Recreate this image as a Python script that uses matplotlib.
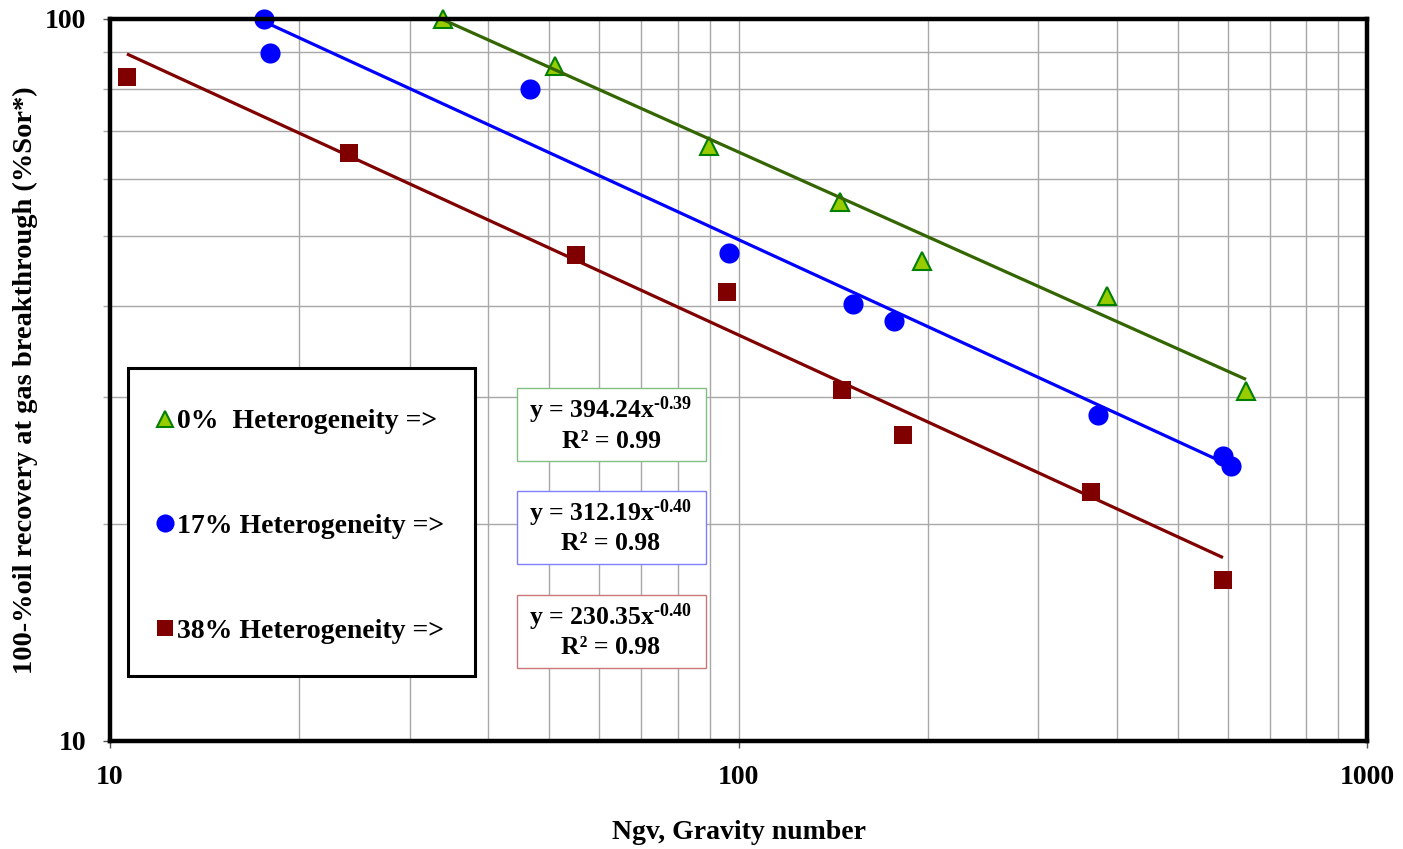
import numpy as np
import matplotlib
matplotlib.use("Agg")
import matplotlib.pyplot as plt
from matplotlib.patches import Rectangle
from matplotlib.lines import Line2D

# ---------------- data ----------------
x_het0 = [33.9, 51.1, 89.8, 145, 196, 386, 642]
y_het0 = [100.0, 86.1, 66.7, 55.8, 46.2, 41.3, 30.5]

x_het17 = [17.6, 18.0, 46.6, 96.6, 152, 177, 373, 590, 608]
y_het17 = [100.0, 89.7, 80.0, 47.4, 40.3, 38.2, 28.3, 24.8, 24.0]

x_het38 = [10.64, 24.0, 55.1, 95.9, 146, 183, 364, 590]
y_het38 = [83.1, 65.2, 47.1, 41.9, 30.6, 26.5, 22.1, 16.7]

fit_coef = [394.24, 312.19, 230.35]
fit_exp = [-0.39, -0.40, -0.40]
fit_r2 = [0.99, 0.98, 0.98]

legend_labels = ["0%  Heterogeneity =>", "17% Heterogeneity =>", "38% Heterogeneity =>"]
x_ticks = [10, 100, 1000]
y_ticks = [10, 100]

# ---------------- style ----------------
plt.rcParams['font.family'] = ['Liberation Serif', 'DejaVu Serif']
plt.rcParams['font.weight'] = 'bold'
plt.rcParams['axes.labelweight'] = 'bold'
plt.rcParams['mathtext.fontset'] = 'custom'
plt.rcParams['mathtext.rm'] = 'Liberation Serif:bold'
plt.rcParams['mathtext.it'] = 'Liberation Serif:bold:italic'
plt.rcParams['mathtext.bf'] = 'Liberation Serif:bold'

W, H = 1403, 849
fig = plt.figure(figsize=(W / 100, H / 100), dpi=100)
L, R, T, B = 110, 1367, 19, 741
ax = fig.add_axes([L / W, 1 - B / H, (R - L) / W, (B - T) / H])


def ax_frac(px, py):
    return (px - L) / (R - L), (B - py) / (B - T)


ax.set_xscale('log')
ax.set_yscale('log')
ax.set_xlim(10, 1000)
ax.set_ylim(10, 100)

grid_c = '#a8a8a8'
ax.grid(True, which='both', color=grid_c, lw=1.0, zorder=0)
ax.set_axisbelow(True)

for s in ax.spines.values():
    s.set_linewidth(3.2)
    s.set_color('black')
    s.set_zorder(10)

ax.set_xticks(x_ticks)
ax.set_xticklabels([str(v) for v in x_ticks])
ax.set_yticks(y_ticks)
ax.set_yticklabels([str(v) for v in y_ticks])
ax.tick_params(axis='both', which='major', direction='out', length=5, width=1,
               color='#555555', labelsize=20, pad=12)
ax.tick_params(axis='x', which='major', pad=12)
ax.tick_params(axis='y', which='minor', direction='out', length=5, width=1, color=grid_c)
ax.tick_params(axis='x', which='minor', length=0)
ax.yaxis.set_minor_formatter(matplotlib.ticker.NullFormatter())
ax.xaxis.set_minor_formatter(matplotlib.ticker.NullFormatter())

series = [
    (x_het0, y_het0, dict(marker='^', ms=13.5, mfc='#99CC00', mec='#008000', mew=1.5), '#336600'),
    (x_het17, y_het17, dict(marker='o', ms=14.5, mfc='#0000FF', mec='#0000FF', mew=0), '#0000FF'),
    (x_het38, y_het38, dict(marker='s', ms=12.5, mfc='#800000', mec='#800000', mew=0), '#800000'),
]

handles = []
for i, (xs, ys, mk, lc) in enumerate(series):
    ax.plot(xs, ys, ls='none', zorder=4, clip_on=False, **mk)
    handles.append(Line2D([], [], ls='none', **dict(mk, ms=mk['ms'] * 0.9)))
    xf = np.geomspace(min(xs), max(xs), 100)
    ax.plot(xf, fit_coef[i] * xf ** fit_exp[i], color=lc, lw=2.3, zorder=5,
            solid_capstyle='butt')

ax.set_xlabel('Ngv, Gravity number', fontsize=20, labelpad=22)
ax.set_ylabel('100-%oil recovery at gas breakthrough (%Sor*)', fontsize=20.5, labelpad=5)

# legend box
x0, y0 = ax_frac(128, 676)
x1, y1 = ax_frac(475, 368)
ax.add_patch(Rectangle((x0, y0), x1 - x0, y1 - y0, transform=ax.transAxes,
                       fill=True, facecolor='white', edgecolor='black', lw=2.2, zorder=8))
lx, ly = ax_frac(156, 409)
leg = ax.legend(handles, legend_labels, loc='upper left', bbox_to_anchor=(lx, ly),
                frameon=False, fontsize=20, handlelength=0.62, handletextpad=0.15,
                labelspacing=2.85, borderpad=0, borderaxespad=0)
leg.set_zorder(9)

# equation boxes
box_edges = ['#80c080', '#8080ff', '#c87878']
box_tops = [388, 491, 595]
for i in range(3):
    bx0, by0 = ax_frac(517, box_tops[i] + 73)
    bx1, by1 = ax_frac(706, box_tops[i])
    ax.add_patch(Rectangle((bx0, by0), bx1 - bx0, by1 - by0, transform=ax.transAxes,
                           facecolor='white', edgecolor=box_edges[i], lw=1.0, zorder=8))
    cx, cy1 = ax_frac(611, box_tops[i] + 22)
    _, cy2 = ax_frac(611, box_tops[i] + 53)
    ax.text(cx, cy1, 'y = %.2fx$^{\\text{%.2f}}$' % (fit_coef[i], fit_exp[i]),
            transform=ax.transAxes, ha='center', va='center', fontsize=18.5, zorder=9)
    ax.text(cx, cy2, 'R\u00b2 = %.2f' % fit_r2[i], transform=ax.transAxes,
            ha='center', va='center', fontsize=18.5, zorder=9)

fig.savefig('out.png', dpi=100)
